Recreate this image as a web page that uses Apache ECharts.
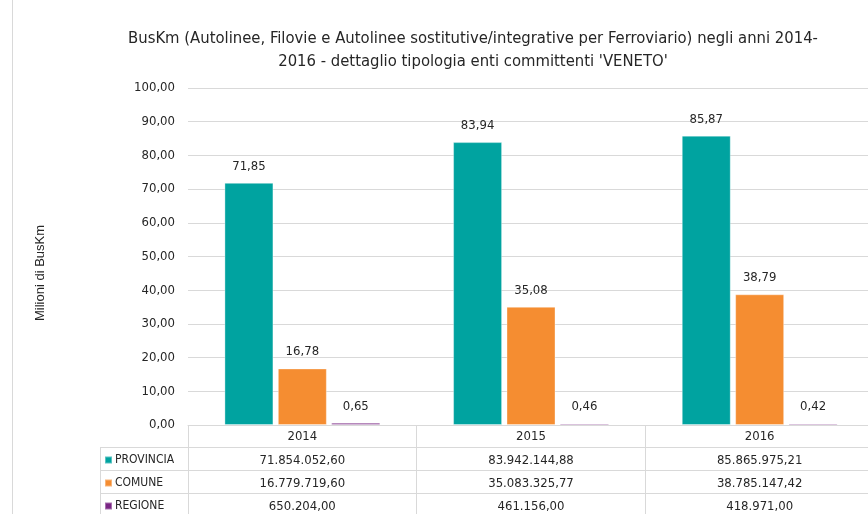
<!DOCTYPE html>
<html>
<head>
<meta charset="utf-8">
<script src="https://cdn.jsdelivr.net/npm/echarts@6/dist/echarts.min.js"></script>
<style>
  html, body { margin: 0; padding: 0; background: #fff; overflow: hidden; }
  /* the plot continues a few pixels past the right edge of the window */
  #chart { width: 874px; height: 514px; }
</style>
</head>
<body>
<div id="chart"></div>
<script>
// Anni e valori (milioni di BusKm) per tipologia di ente committente
const years = ['2014', '2015', '2016'];
const seriesNames = ['PROVINCIA', 'COMUNE', 'REGIONE'];
const provincia = [71.854052, 83.942145, 85.865975];
const comune = [16.779720, 35.083326, 38.785147];
const regione = [0.650204, 0.461156, 0.418971];
// Valori completi riportati nella tabella dati
const provinciaTable = ['71.854.052,60', '83.942.144,88', '85.865.975,21'];
const comuneTable = ['16.779.719,60', '35.083.325,77', '38.785.147,42'];
const regioneTable = ['650.204,00', '461.156,00', '418.971,00'];
const yTicks = { min: 0, max: 100, interval: 10 };

const colors = ['#00A3A0', '#F58D31', '#7A2684'];
const narrow = '"Liberation Sans Narrow", "DejaVu Sans Condensed", "Roboto Condensed", sans-serif';
const textColor = '#262626';
const lineColor = '#D9D9D9';

const fmt2 = v => v.toFixed(2).replace('.', ',');

const chart = echarts.init(document.getElementById('chart'), null, { renderer: 'canvas' });

const gridLeft = 188, gridTop = 88, gridBottom = 89;
const rowOffsets = [24, 47, 70];
const tableRows = [provinciaTable, comuneTable, regioneTable];

// Asse delle categorie + tre assi aggiuntivi usati come righe della tabella dati
const xAxes = [{
  type: 'category',
  data: years,
  position: 'bottom',
  axisLine: { lineStyle: { color: lineColor } },
  axisTick: { show: true, length: 90, lineStyle: { color: lineColor } },
  axisLabel: { color: textColor, fontFamily: narrow, fontSize: 13, margin: 5 }
}].concat(tableRows.map((row, i) => ({
  type: 'category',
  data: years,
  position: 'bottom',
  offset: rowOffsets[i],
  axisLine: { show: false },
  axisTick: { show: false },
  axisLabel: {
    color: textColor, fontFamily: narrow, fontSize: 13, margin: 5,
    formatter: (v, idx) => row[idx]
  }
})));

const makeSeries = (name, data, color) => ({
  name: name,
  type: 'bar',
  data: data,
  barWidth: 49,
  barGap: '9%',
  itemStyle: { color: color, borderColor: 'rgba(255,255,255,0.35)', borderWidth: 1 },
  label: {
    show: true, position: 'top', distance: 10,
    color: textColor, fontFamily: narrow, fontSize: 13,
    formatter: p => fmt2(p.value)
  }
});

const hLines = [447, 470, 493].map(y => ({
  type: 'line', silent: true,
  shape: { x1: 100, y1: y + 0.5, x2: 874, y2: y + 0.5 },
  style: { stroke: lineColor, lineWidth: 1 }
}));

chart.setOption({
  animation: false,
  color: colors,
  title: {
    text: 'BusKm (Autolinee, Filovie e Autolinee sostitutive/integrative per Ferroviario) negli anni 2014-\n2016 - dettaglio tipologia enti committenti \'VENETO\'',
    left: 468,
    top: 22,
    textAlign: 'center',
    textStyle: { fontFamily: narrow, fontSize: 16.5, fontWeight: 'normal', color: textColor, lineHeight: 23 }
  },
  legend: {
    orient: 'vertical',
    left: 104,
    top: 453.5,
    padding: 0,
    icon: 'rect',
    itemWidth: 7,
    itemHeight: 7,
    itemGap: 10,
    textStyle: { fontFamily: narrow, fontSize: 12, color: textColor, lineHeight: 13, padding: [0, 0, 0, -2] },
    data: seriesNames
  },
  grid: { left: gridLeft, right: 0, top: gridTop, bottom: gridBottom, containLabel: false },
  xAxis: xAxes,
  yAxis: {
    type: 'value',
    min: yTicks.min, max: yTicks.max, interval: yTicks.interval,
    axisLine: { show: false },
    axisTick: { show: false },
    splitLine: { lineStyle: { color: lineColor } },
    axisLabel: { color: textColor, fontFamily: narrow, fontSize: 13, margin: 13, formatter: v => fmt2(v) }
  },
  series: [
    makeSeries(seriesNames[0], provincia, colors[0]),
    makeSeries(seriesNames[1], comune, colors[1]),
    makeSeries(seriesNames[2], regione, colors[2])
  ],
  graphic: [
    { type: 'line', silent: true, shape: { x1: 12.5, y1: 0, x2: 12.5, y2: 514 }, style: { stroke: lineColor, lineWidth: 1 } },
    { type: 'line', silent: true, shape: { x1: 100.5, y1: 447, x2: 100.5, y2: 514 }, style: { stroke: lineColor, lineWidth: 1 } },
    {
      type: 'text', silent: true, x: 40, y: 273, rotation: Math.PI / 2,
      style: { text: 'Milioni di BusKm', fill: textColor, font: '13px "Liberation Sans", Arial, sans-serif', textAlign: 'center', textVerticalAlign: 'middle' }
    }
  ].concat(hLines)
});
</script>
</body>
</html>
